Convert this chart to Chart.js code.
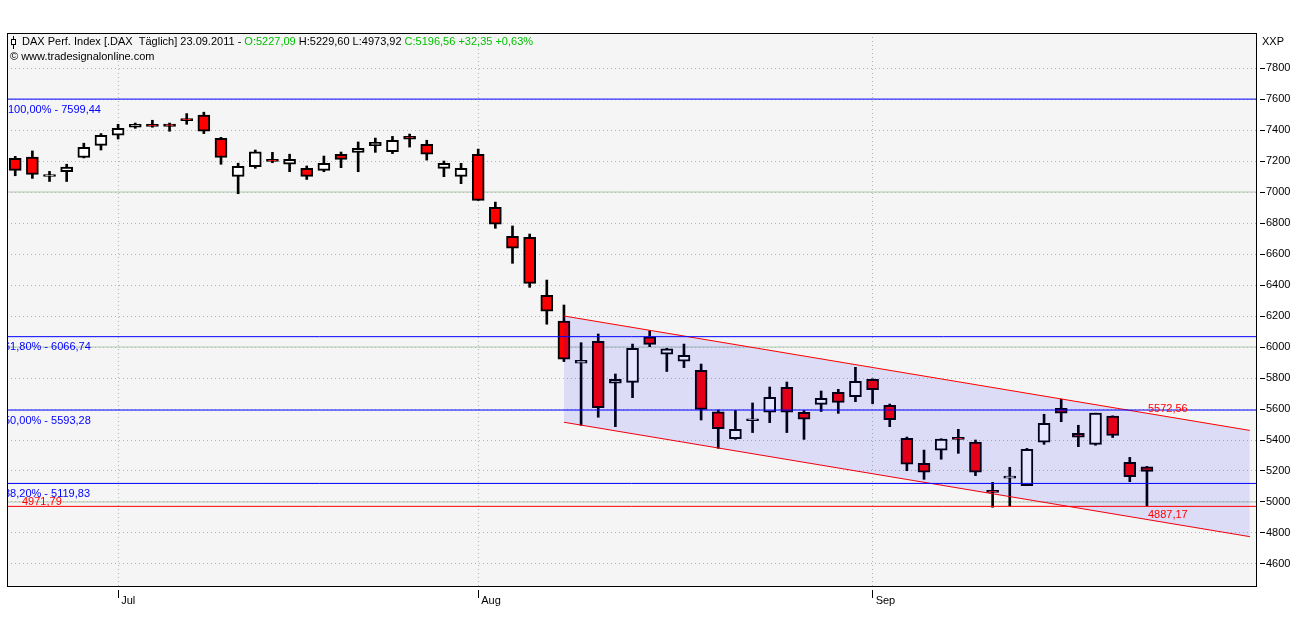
<!DOCTYPE html>
<html>
<head>
<meta charset="utf-8">
<title>DAX Perf. Index</title>
<script src="https://cdn.jsdelivr.net/npm/chart.js@4"></script>
<style>
  html, body { margin: 0; padding: 0; background: #fff; }
  #wrap { width: 1294px; height: 630px; }
</style>
</head>
<body>
<div id="wrap"><canvas id="daxChart" width="1294" height="630"></canvas></div>
<script>
// trading days shown on the chart
const dates = [
  '2011-06-23','2011-06-24','2011-06-27','2011-06-28','2011-06-29','2011-06-30',
  '2011-07-01','2011-07-04','2011-07-05','2011-07-06','2011-07-07','2011-07-08',
  '2011-07-11','2011-07-12','2011-07-13','2011-07-14','2011-07-15',
  '2011-07-18','2011-07-19','2011-07-20','2011-07-21','2011-07-22',
  '2011-07-25','2011-07-26','2011-07-27','2011-07-28','2011-07-29',
  '2011-08-01','2011-08-02','2011-08-03','2011-08-04','2011-08-05',
  '2011-08-08','2011-08-09','2011-08-10','2011-08-11','2011-08-12',
  '2011-08-15','2011-08-16','2011-08-17','2011-08-18','2011-08-19',
  '2011-08-22','2011-08-23','2011-08-24','2011-08-25','2011-08-26',
  '2011-08-29','2011-08-30','2011-08-31','2011-09-01','2011-09-02',
  '2011-09-05','2011-09-06','2011-09-07','2011-09-08','2011-09-09',
  '2011-09-12','2011-09-13','2011-09-14','2011-09-15','2011-09-16',
  '2011-09-19','2011-09-20','2011-09-21','2011-09-22','2011-09-23'
];

const opens = [
  7217, 7226, 7100, 7131, 7223, 7301,
  7366, 7418, 7428, 7439, 7465, 7496,
  7346, 7101, 7164, 7202, 7179,
  7153, 7140, 7243, 7256, 7299,
  7260, 7359, 7308, 7153, 7101,
  7243, 6901, 6714, 6708, 6334,
  6168, 5895, 6037, 5766, 5772,
  6066, 5953, 5908, 5850, 5581,
  5408, 5524, 5580, 5740, 5579,
  5630, 5708, 5679, 5792, 5623,
  5411, 5250, 5334, 5408, 5386,
  5068, 5154, 5105, 5386, 5605,
  5443, 5372, 5554, 5256, 5227.09
];
const highs = [
  7230, 7265, 7133, 7179, 7315, 7377,
  7437, 7445, 7463, 7445, 7506, 7515,
  7353, 7186, 7271, 7256, 7244,
  7168, 7232, 7258, 7323, 7348,
  7359, 7374, 7334, 7200, 7185,
  7277, 6935, 6781, 6729, 6432,
  6271, 6028, 6084, 5826, 6019,
  6105, 5992, 6019, 5890, 5594,
  5590, 5639, 5742, 5774, 5590,
  5716, 5727, 5869, 5795, 5632,
  5419, 5335, 5408, 5469, 5400,
  5127, 5224, 5346, 5566, 5663,
  5495, 5573, 5556, 5288, 5229.60
];
const lows = [
  7105, 7088, 7068, 7068, 7220, 7271,
  7342, 7411, 7418, 7392, 7437, 7377,
  7179, 6989, 7153, 7189, 7131,
  7081, 7131, 7157, 7131, 7256,
  7248, 7290, 7206, 7099, 7054,
  6946, 6766, 6540, 6385, 6147,
  5906, 5495, 5547, 5486, 5673,
  6002, 5842, 5867, 5529, 5346,
  5404, 5448, 5512, 5448, 5404,
  5584, 5572, 5647, 5634, 5486,
  5202, 5146, 5276, 5314, 5170,
  4966, 4974, 5105, 5372, 5518,
  5357, 5366, 5416, 5131, 4973.92
];
const closes = [
  7140, 7114, 7104, 7161, 7288, 7366,
  7411, 7437, 7424, 7424, 7461, 7392,
  7223, 7166, 7260, 7198, 7211,
  7101, 7185, 7211, 7282, 7321,
  7334, 7341, 7244, 7185, 7153,
  6946, 6792, 6637, 6411, 6231,
  5921, 5914, 5608, 5792, 5991,
  6017, 5989, 5946, 5598, 5473,
  5469, 5532, 5675, 5580, 5534,
  5669, 5643, 5779, 5725, 5531,
  5244, 5192, 5406, 5404, 5192,
  5062, 5166, 5340, 5508, 5573,
  5418, 5573, 5429, 5164.21, 5196.56
];

// price axis
const yTicks = [4600, 4800, 5000, 5200, 5400, 5600, 5800, 6000, 6200, 6400, 6600, 6800, 7000, 7200, 7400, 7600, 7800];
const majorLevels = [5000, 6000, 7000];
const monthNames = ['Jan','Feb','Mär','Apr','Mai','Jun','Jul','Aug','Sep','Okt','Nov','Dez'];

// retracement levels + support
const fibLevels = [7599.44, 6066.74, 5593.28, 5119.83];
const fibPct = ['100,00%', '61,80%', '50,00%', '38,20%'];
const supportLevels = [4971.79];

// trend channel (bar index -> value)
const channelX = [32, 72];
const channelUpper = [6200.0, 5461.8];
const channelLower = [5514.5, 4776.4];
const channelMarks = [5572.56, 4887.17];

const X_MIN = -0.48, X_MAX = 72.36;
const FONT = '"Liberation Sans", Arial, sans-serif';
const last = closes.length - 1;
const fmt = v => v.toFixed(2).replace('.', ',');

Chart.defaults.font.family = FONT;
Chart.defaults.font.size = 11;

// month start ticks
const monthTicks = [];
dates.forEach((d, i) => {
  if (i > 0 && d.slice(5, 7) !== dates[i - 1].slice(5, 7)) monthTicks.push(i);
});

const bodyData = dates.map((d, i) => ({ x: i, y: [opens[i], closes[i]] }));
const wickData = dates.map((d, i) => ({ x: i, y: [lows[i], highs[i]] }));
const bodyColors = dates.map((d, i) => closes[i] >= opens[i] ? '#ffffff' : '#ff0000');

function hLine(v, color, order) {
  return {
    type: 'line',
    data: [{ x: X_MIN, y: v }, { x: X_MAX, y: v }],
    borderColor: color, borderWidth: 1, pointRadius: 0, fill: false, order: order
  };
}

const datasets = [];
majorLevels.forEach(v => datasets.push(hLine(v, '#b0c8b0', 30)));
datasets.push({
  type: 'bar', data: wickData, backgroundColor: '#000', borderWidth: 0,
  barThickness: 2, grouped: false, order: 20
});
datasets.push({
  type: 'bar', data: bodyData, backgroundColor: bodyColors, borderColor: '#000',
  borderWidth: 2, borderSkipped: false, barThickness: 12, minBarLength: 2,
  grouped: false, order: 10
});
datasets.push({
  type: 'line', data: channelX.map((x, i) => ({ x: x, y: channelUpper[i] })),
  borderColor: '#ff0000', borderWidth: 1, pointRadius: 0,
  fill: '+1', backgroundColor: 'rgba(0, 0, 255, 0.1)', order: 5
});
datasets.push({
  type: 'line', data: channelX.map((x, i) => ({ x: x, y: channelLower[i] })),
  borderColor: '#ff0000', borderWidth: 1, pointRadius: 0, fill: false, order: 5
});
fibLevels.forEach(v => datasets.push(hLine(v, '#0000ff', 1)));
supportLevels.forEach(v => datasets.push(hLine(v, '#ff0000', 1)));

// background, frame and texts
const decor = {
  id: 'decor',
  beforeDraw(chart) {
    const { ctx, chartArea: a } = chart;
    ctx.save();
    ctx.fillStyle = '#ffffff';
    ctx.fillRect(0, 0, chart.width, chart.height);
    ctx.fillStyle = '#f5f5f5';
    ctx.fillRect(a.left, a.top, a.right - a.left, a.bottom - a.top);
    ctx.restore();
  },
  afterDatasetsDraw(chart) {
    const { ctx, chartArea: a, scales: { x, y } } = chart;
    ctx.save();
    ctx.beginPath();
    ctx.rect(a.left, a.top, a.right - a.left, a.bottom - a.top);
    ctx.clip();
    ctx.font = '11px ' + FONT;
    ctx.fillStyle = '#0000ff';
    ctx.textBaseline = 'top';
    fibLevels.forEach((v, i) => {
      // the shorter labels start a little left of the frame, as in the original
      const lx = i === 0 ? a.left + 1 : a.left - 3;
      ctx.fillText(fibPct[i] + ' - ' + fmt(v), lx, y.getPixelForValue(v) + 5);
    });
    ctx.fillStyle = '#ff0000';
    ctx.textBaseline = 'bottom';
    supportLevels.forEach(v => {
      ctx.fillText(fmt(v), a.left + 15, y.getPixelForValue(v) + 1);
    });
    ctx.textBaseline = 'alphabetic';
    channelMarks.forEach(v => {
      ctx.fillText(fmt(v), x.getPixelForValue(last) + 1, y.getPixelForValue(v) - 1);
    });
    ctx.restore();
  },
  afterDraw(chart) {
    const { ctx, chartArea: a } = chart;
    ctx.save();
    ctx.strokeStyle = '#000';
    ctx.lineWidth = 1;
    ctx.strokeRect(a.left + 0.5, a.top + 0.5, a.right - a.left, a.bottom - a.top);

    // header
    ctx.font = '11px ' + FONT;
    ctx.textBaseline = 'middle';
    ctx.beginPath();
    ctx.moveTo(13.5, 36); ctx.lineTo(13.5, 49);
    ctx.stroke();
    ctx.fillStyle = '#fff';
    ctx.fillRect(11.5, 39.5, 4, 5);
    ctx.strokeRect(11.5, 39.5, 4, 5);

    const d = dates[last];
    const change = closes[last] - closes[last - 1];
    const pct = change / closes[last - 1] * 100;
    const parts = [
      ['DAX Perf. Index [.DAX  Täglich] ' + d.slice(8, 10) + '.' + d.slice(5, 7) + '.' + d.slice(0, 4) + ' - ', '#000'],
      ['O:' + fmt(opens[last]), '#00c000'],
      [' H:' + fmt(highs[last]) + ' L:' + fmt(lows[last]) + ' ', '#000'],
      ['C:' + fmt(closes[last]) + ' +' + fmt(change) + ' +' + fmt(pct) + '%', '#00c000']
    ];
    let tx = 22;
    parts.forEach(p => {
      ctx.fillStyle = p[1];
      ctx.fillText(p[0], tx, 42);
      tx += ctx.measureText(p[0]).width;
    });
    ctx.fillStyle = '#000';
    ctx.fillText('© www.tradesignalonline.com', 10, 57);
    ctx.fillText('XXP', 1262, 42);
    ctx.restore();
  }
};

const chart = new Chart(document.getElementById('daxChart'), {
  type: 'bar',
  data: { datasets: datasets },
  options: {
    responsive: false,
    animation: false,
    events: [],
    layout: { padding: { left: 7, top: 33, right: 0, bottom: 0 } },
    plugins: { legend: { display: false }, tooltip: { enabled: false } },
    scales: {
      x: {
        type: 'linear', min: X_MIN, max: X_MAX, offset: false,
        afterBuildTicks: s => { s.ticks = monthTicks.map(v => ({ value: v })); },
        afterFit: s => { s.height = 44; },
        grid: { color: '#a8bca8', offset: false, tickColor: '#000', tickLength: 12, tickBorderDash: [0, 4, 8, 0] },
        border: { display: false, dash: [1, 3] },
        ticks: {
          align: 'start', padding: -4, color: '#000', autoSkip: false, maxRotation: 0,
          callback: v => ' ' + monthNames[+dates[v].slice(5, 7) - 1]
        }
      },
      y: {
        position: 'right', min: 4458, max: 8026, beginAtZero: false,
        afterBuildTicks: s => { s.ticks = yTicks.map(v => ({ value: v })); },
        afterFit: s => { s.width = 38; },
        grid: { color: '#a8bca8', tickColor: '#000', tickLength: 9, tickBorderDash: [0, 4, 5, 0] },
        border: { display: false, dash: [1, 3] },
        ticks: { padding: 1, color: '#000', callback: v => String(v) }
      }
    }
  },
  plugins: [decor]
});
</script>
</body>
</html>
